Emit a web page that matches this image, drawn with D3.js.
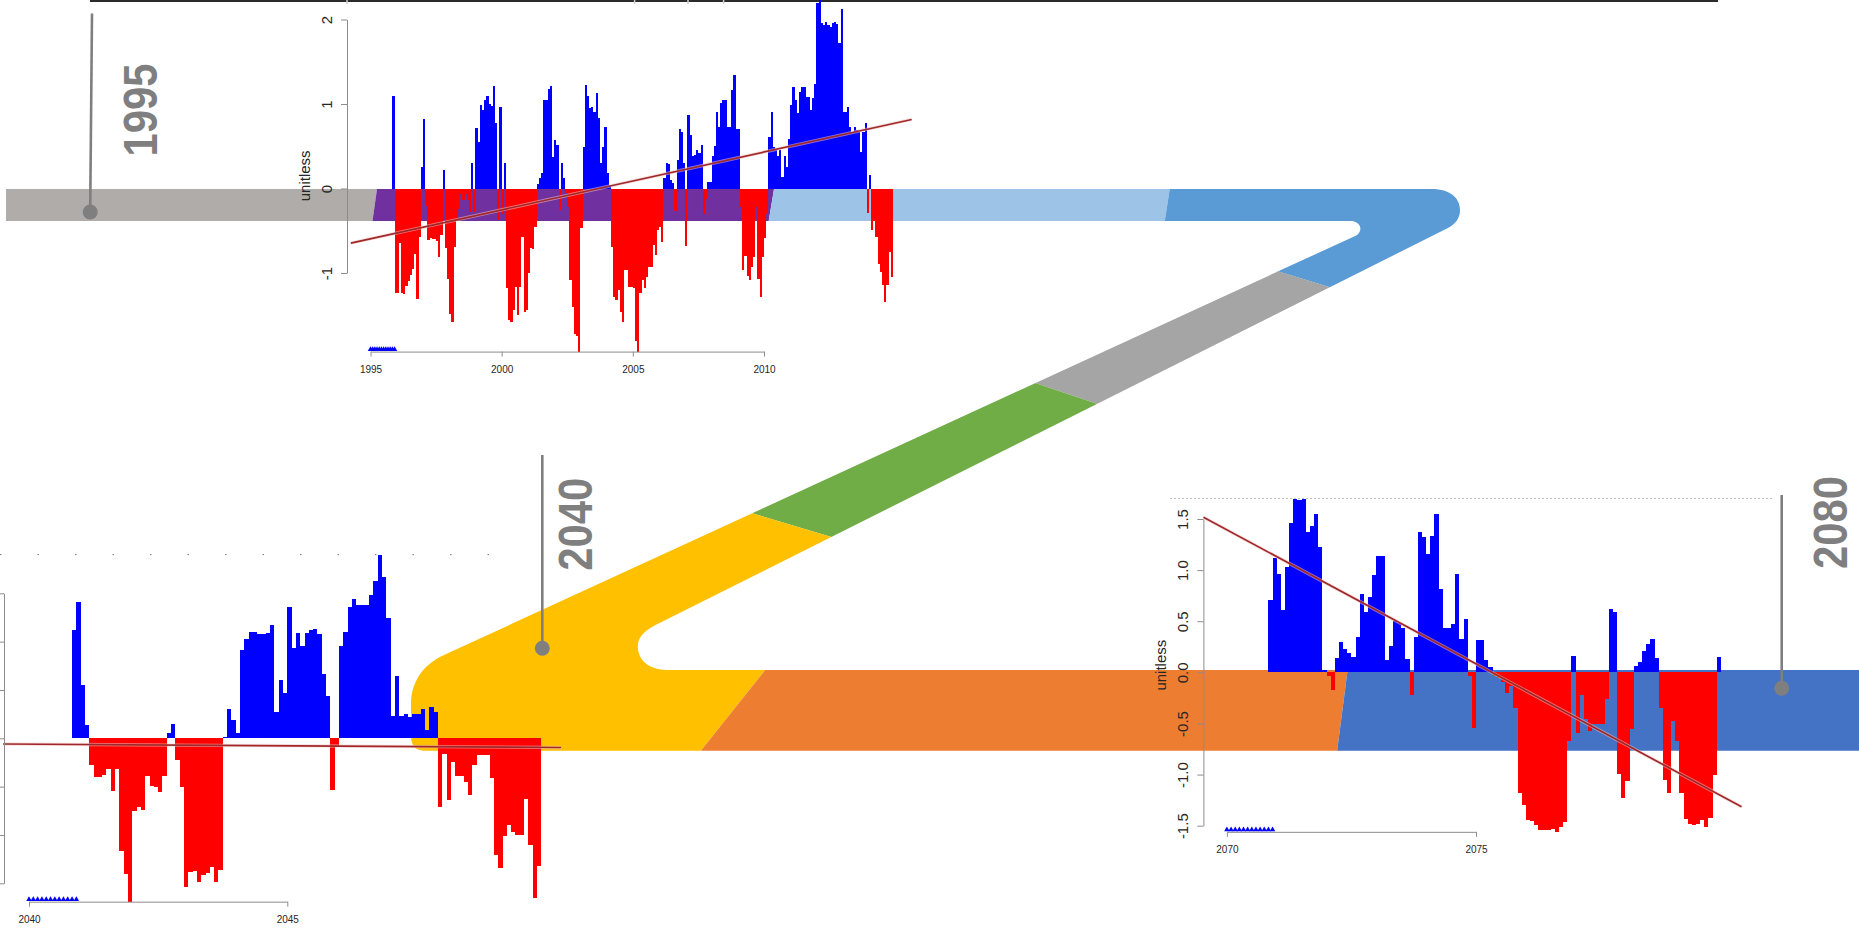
<!DOCTYPE html>
<html><head><meta charset="utf-8">
<script src="https://cdn.jsdelivr.net/npm/d3@7"></script>
<style>html,body{margin:0;padding:0;background:#fff;overflow:hidden}</style>
</head><body>
<svg id="c" width="1859" height="930"></svg>
<script>
// ---------------- DATA ----------------
// monthly anomaly (unitless); first value = November of first year
const start1995 = 1995 + 10/12;
const anomaly1995 = [
 1.10,-1.24,-1.24,-0.64,-1.24,-1.25,-1.15,-1.10,-1.02,-0.95,-0.78,-1.31,-0.57,0.26,0.82,
 -0.21,-0.61,-0.58,-0.60,-0.60,-0.62,-0.81,-0.55,0.22,-0.71,-1.07,-1.48,-1.58,-0.69,-0.37,
 -0.24,-0.06,-0.14,-0.07,-0.14,-0.28,0.30,-0.28,0.72,0.55,0.99,0.93,1.05,1.10,1.00,0.98,
 1.21,0.77,-0.37,0.97,-0.30,0.30,-1.18,-1.56,-1.58,-1.44,-1.16,-1.50,-1.16,-0.57,-1.46,
 -1.44,-1.00,-0.71,-0.72,-0.45,0.05,0.12,0.18,1.05,1.05,1.18,1.21,0.37,0.57,0.51,-0.26,
 0.30,0.12,-0.05,-0.22,-1.08,-1.40,-1.72,-1.75,-1.93,-0.47,0.49,1.23,1.10,0.95,0.96,0.91,
 1.13,0.83,0.30,0.49,0.73,0.18,0.04,-0.69,-1.28,-1.32,-1.20,-1.46,-1.58,-0.97,-0.97,-1.16,
 -1.17,-1.18,-1.80,-1.93,-1.24,-1.08,-1.18,-1.05,-0.93,-0.93,-0.67,-0.79,-0.49,-0.45,-0.63,
 0.13,0.30,0.29,0.10,0.06,-0.27,0.34,0.71,0.67,0.30,-0.68,0.87,0.63,0.39,0.40,0.45,0.42,
 0.51,-0.30,-0.12,0.08,0.08,0.39,0.50,0.90,0.73,1.01,1.05,1.05,0.73,0.73,1.16,1.34,0.71,
 0.70,-0.22,-0.96,-0.80,-1.03,-1.08,-0.93,-0.81,-0.22,-1.07,-1.28,-0.81,-0.59,-0.30,0.61,
 0.90,0.49,0.45,0.39,0.45,0.14,0.39,0.26,0.58,0.99,1.20,1.05,0.89,1.14,1.20,1.20,1.08,1.08,
 0.93,1.07,1.24,2.19,2.23,1.96,1.93,1.97,1.93,1.91,1.96,1.97,1.95,1.72,2.13,0.90,0.90,0.97,
 0.73,0.67,0.73,0.69,0.67,0.43,0.67,0.77,-0.29,0.16,-0.49,-0.39,-0.57,-0.89,-0.99,-1.14,
 -1.34,-1.14,-0.75,-1.05
];
const start2040 = 2040 + 10/12;
const anomaly2040 = [
 1.12,1.41,0.55,0.14,
 -0.28,-0.40,-0.40,-0.38,-0.32,-0.55,-0.32,-1.17,-1.40,-1.69,-0.75,-0.71,-0.74,-0.39,-0.49,-0.50,-0.56,-0.39,
 0.06,0.15,
 -0.22,-0.50,-1.54,-1.38,-1.37,-1.49,-1.41,-1.39,-1.33,-1.49,-1.36,
 0.01,0.30,0.19,0.06,0.91,1.03,1.10,1.10,1.08,1.08,1.09,1.17,0.27,0.60,0.47,1.36,0.93,1.09,0.96,1.09,1.12,1.13,1.08,0.67,0.44,
 -0.53,-0.08,
 0.96,1.10,1.36,1.44,1.38,1.38,1.38,1.48,1.63,1.90,1.67,1.24,0.23,0.64,0.23,0.25,0.22,0.25,0.25,0.30,0.09,0.32,0.27,
 -0.71,-0.16,-0.64,-0.24,-0.39,-0.39,-0.45,-0.59,-0.28,-0.17,-0.17,-0.17,-0.41,-1.21,-1.34,-1.01,-0.90,-0.97,-1.00,-1.00,-0.63,-1.10,-1.65,-1.32
];
const start2070 = 2070 + 10/12;
const anomaly2070 = [
 0.71,1.12,0.96,0.61,1.03,1.46,1.70,1.69,1.70,1.37,1.43,1.55,1.23,
 0.02,-0.04,-0.17,
 0.14,0.30,0.23,0.19,0.15,0.35,0.77,0.59,0.74,0.95,1.14,1.14,0.12,0.26,0.50,0.48,0.43,0.13,
 -0.22,
 0.35,1.37,1.32,1.16,1.33,1.55,0.82,0.43,0.43,0.47,0.96,0.33,0.52,
 -0.04,-0.54,
 0.32,0.32,0.12,0.05,
 -0.04,-0.06,-0.09,-0.20,-0.13,-0.35,-1.18,-1.30,-1.44,-1.45,-1.49,-1.54,-1.54,-1.54,-1.53,-1.56,-1.51,-1.46,-0.67,
 0.16,
 -0.59,-0.22,-0.46,-0.57,-0.51,-0.51,-0.51,-0.26,
 0.62,0.59,
 -0.99,-1.23,-1.06,-0.55,
 0.06,0.10,0.21,0.28,0.33,0.14,
 -0.35,-1.05,-1.18,-0.48,-0.67,-1.18,-1.43,-1.48,-1.49,-1.48,-1.44,-1.51,-1.42,-1.00,
 0.15
];
const xTicks1995 = [1995, 2000, 2005, 2010];
const xTicks2040 = [2040, 2045];
const xTicks2070 = [2070, 2075];
const yTicks1995 = [-1, 0, 1, 2];
const yTicks2040 = [-1.5, -1, -0.5, 0, 0.5, 1, 1.5];
const yTicks2070 = [-1.5, -1, -0.5, 0, 0.5, 1, 1.5];
const trend1995 = [[1994.25, -0.647], [2015.63, 0.817]];
const trend2040 = [[2039.5, -0.059], [2050.3, -0.095]];
const trend2070 = [[2069.53, 1.517], [2080.33, -1.315]];
const markerMonths = [0,1,2,3,4,5,6,7,8,9,10,11];
const eraLabels = ["1995", "2040", "2080"];
const yLabel = "unitless";

// ---------------- DRAW ----------------
const svg = d3.select("#c");
const FONT = "'Liberation Sans', Arial, Helvetica, sans-serif";

// Ribbon (timeline band)
const rp = d3.path();
rp.moveTo(6,189); rp.lineTo(1432,189);
rp.bezierCurveTo(1450,189,1460,198,1460,210);
rp.bezierCurveTo(1460,219,1455,224,1447.4,228.3);
rp.lineTo(655,625.3);
rp.bezierCurveTo(640,633,636,642,638.5,652);
rp.bezierCurveTo(641,663,652,670,668,670);
rp.lineTo(1859,670); rp.lineTo(1859,750.7); rp.lineTo(425,750.7);
rp.quadraticCurveTo(411,750.7,411,736);
rp.lineTo(411,705);
rp.bezierCurveTo(411,685,420,665,446.7,653.8);
rp.lineTo(1355.7,235.7);
rp.bezierCurveTo(1362,232.8,1363,223,1352,221);
rp.lineTo(6,221); rp.closePath();

const defs = svg.append("defs");
defs.append("clipPath").attr("id","ribbonClip").append("path").attr("d", rp.toString());

const ribbonSegments = [
 {color:"#afacaa", pts:[[0,150],[382.5,150],[367,260],[0,260]]},
 {color:"#7030a0", pts:[[382.5,150],[780.5,150],[762.2,260],[367,260]]},
 {color:"#9dc3e6", pts:[[780.5,150],[1175.7,150],[1158.8,260],[762.2,260]]},
 {color:"#5b9bd5", pts:[[1175.7,150],[1600,150],[1600,370],[1279.2,271.7],[1158.8,260]]},
 {color:"#a5a5a5", pts:[[1150,232],[1600,370],[1600,573.5],[900,337.5]]},
 {color:"#70ad47", pts:[[900,337.5],[1300,472.3],[900,557.6],[650,482.7]]},
 {color:"#ffc000", pts:[[650,482.7],[900,557.6],[789,640],[677.6,780],[300,780],[300,400]]},
 {color:"#ed7d31", pts:[[789,640],[1351.5,640],[1333.4,780],[677.6,780]]},
 {color:"#4472c4", pts:[[1351.5,640],[1900,640],[1900,780],[1333.4,780]]}
];
const rib = svg.append("g").attr("clip-path","url(#ribbonClip)");
rib.selectAll("path").data(ribbonSegments).join("path")
  .attr("d", d => "M" + d.pts.map(p=>p.join(",")).join("L") + "Z")
  .attr("fill", d => d.color);

// Era pins
const pins = [
 {label: eraLabels[0], x1: 92, y1: 13.5, x2: 90.2, y2: 212, tx: 157.2, ty: 110},
 {label: eraLabels[1], x1: 542.3, y1: 455, x2: 542.3, y2: 648.3, tx: 591.7, ty: 524.2},
 {label: eraLabels[2], x1: 1781.7, y1: 495, x2: 1781.7, y2: 688.3, tx: 1847, ty: 522.6}
];
const pg = svg.append("g");
pg.selectAll("line").data(pins).join("line")
  .attr("x1", d=>d.x1).attr("y1", d=>d.y1).attr("x2", d=>d.x2).attr("y2", d=>d.y2)
  .attr("stroke","#7f7f7f").attr("stroke-width",2.6);
pg.selectAll("circle").data(pins).join("circle")
  .attr("cx", d=>d.x2).attr("cy", d=>d.y2).attr("r",7.5).attr("fill","#7f7f7f");
pg.selectAll("text").data(pins).join("text")
  .attr("transform", d=>`translate(${d.tx},${d.ty}) rotate(-90)`)
  .attr("text-anchor","middle")
  .attr("font-family", FONT).attr("font-weight","bold").attr("font-size", 49)
  .attr("textLength", 93).attr("lengthAdjust","spacingAndGlyphs")
  .attr("fill","#7f7f7f").text(d=>d.label);

// Charts
const charts = [
 {values: anomaly1995, start: start1995, xDomain:[1995,2010], xRange:[370.5,764],
  yDomain:[-1,2], yRange:[273,19.5], xTicks: xTicks1995, yTicks: yTicks1995, yFmt: d=>String(d),
  yAxisX: 347, trend: trend1995, markStart: 1995, yText: true,
  rule: {x1: 90, x2: 1718, color:"#2b2b2b", width:2, dash:null, dy:1, ticks:[347,634.6,688,723.6]}},
 {values: anomaly2040, start: start2040, xDomain:[2040,2045], xRange:[29,287.3],
  yDomain:[-1.5,1.5], yRange:[883.3,593.3], xTicks: xTicks2040, yTicks: yTicks2040, yFmt: d=>d.toFixed(1),
  yAxisX: 4, trend: trend2040, markStart: 2040, yText: false,
  rule: {x1: 0, x2: 522, color:"#777", width:1, dash:"1.5,36", dy:0, ticks:[]}},
 {values: anomaly2070, start: start2070, xDomain:[2070,2075], xRange:[1226.9,1476],
  yDomain:[-1.5,1.5], yRange:[825.7,519], xTicks: xTicks2070, yTicks: yTicks2070, yFmt: d=>d.toFixed(1),
  yAxisX: 1203.4, trend: trend2070, markStart: 2070, yText: true,
  rule: {x1: 1170, x2: 1774, color:"#bdbdbd", width:1, dash:"2,2", dy:0, ticks:[]}}
];

charts.forEach(c => {
  const g = svg.append("g");
  const x = d3.scaleLinear().domain(c.xDomain).range(c.xRange);
  const y = d3.scaleLinear().domain(c.yDomain).range(c.yRange);
  const vmin = d3.min(c.values), vmax = d3.max(c.values);
  const axisY = y(vmin);

  // top rule
  g.append("line").attr("x1", c.rule.x1).attr("x2", c.rule.x2)
    .attr("y1", y(vmax) + c.rule.dy).attr("y2", y(vmax) + c.rule.dy)
    .attr("stroke", c.rule.color).attr("stroke-width", c.rule.width)
    .attr("stroke-dasharray", c.rule.dash);
  g.selectAll("line.rt").data(c.rule.ticks).join("line").attr("class","rt")
    .attr("x1", d=>d).attr("x2", d=>d).attr("y1", 0).attr("y2", 4)
    .attr("stroke","#cfcfcf").attr("stroke-width",1.5);

  // bars
  g.append("g").attr("shape-rendering","crispEdges")
    .selectAll("rect.bar").data(c.values).join("rect").attr("class","bar")
    .attr("x", (d,i) => x(c.start + i/12))
    .attr("width", (d,i) => x(c.start + (i+1)/12) - x(c.start + i/12))
    .attr("y", d => d >= 0 ? y(d) : y(0))
    .attr("height", d => Math.abs(y(d) - y(0)))
    .attr("fill", d => d >= 0 ? "#0000ff" : "#ff0000");

  // trend line
  const tl = d3.line().x(d=>x(d[0])).y(d=>y(d[1]));
  g.append("path").attr("d", tl(c.trend)).attr("fill","none")
    .attr("stroke","#f4c6c6").attr("stroke-width",3.4).attr("stroke-opacity",0.55);
  g.append("path").attr("d", tl(c.trend)).attr("fill","none")
    .attr("stroke","#a0282a").attr("stroke-width",1.7);

  // y axis
  const ya = g.append("g").attr("transform", `translate(${c.yAxisX},0)`)
    .call(d3.axisLeft(y).tickValues(c.yTicks).tickSize(6).tickSizeOuter(0).tickFormat(c.yFmt));
  ya.selectAll("path,line").attr("stroke","#8c8c8c");
  if (c.yText) {
    ya.selectAll("text").attr("transform","rotate(-90)").attr("x",0).attr("y",-15).attr("dy",0)
      .attr("text-anchor","middle").attr("font-family",FONT).attr("font-size",15).attr("fill","#262626");
    g.append("text")
      .attr("transform", `translate(${c.yAxisX - 37},${y((vmin+vmax)/2)}) rotate(-90)`)
      .attr("text-anchor","middle").attr("font-family",FONT).attr("font-size",15)
      .attr("fill","#262626").text(yLabel);
  } else {
    ya.selectAll("text").remove();
  }

  // x axis
  const xa = g.append("g").attr("transform", `translate(0,${axisY})`)
    .call(d3.axisBottom(x).tickValues(c.xTicks).tickSize(5).tickSizeOuter(0).tickFormat(d3.format("d")));
  xa.selectAll("path,line").attr("stroke","#8c8c8c");
  xa.selectAll("text").attr("y",14.5).attr("font-family",FONT).attr("font-size",10).attr("fill","#262626");

  // blue triangle markers on the axis
  g.selectAll("path.tri").data(markerMonths).join("path").attr("class","tri")
    .attr("d", d3.symbol().type(d3.symbolTriangle).size(13))
    .attr("transform", d => `translate(${x(c.markStart + d/12)},${axisY - 2.2})`)
    .attr("fill","#0000ff");
});
</script>
</body></html>
